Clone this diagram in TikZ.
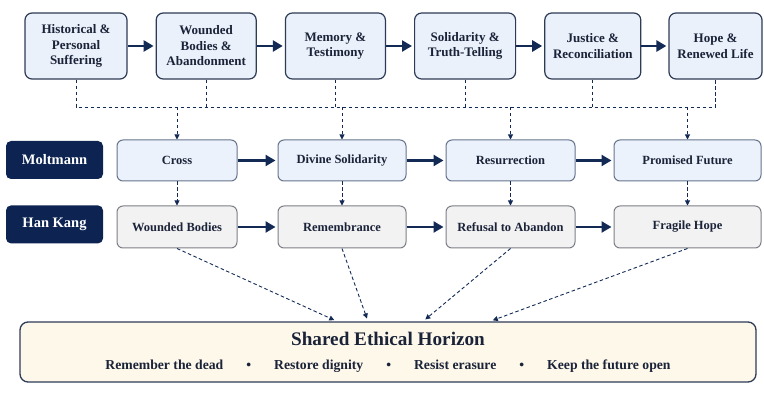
\documentclass[tikz,border=0pt]{standalone}
\usepackage{fontspec}
\setmainfont{Liberation Serif}
\usepackage{xcolor}
\usepackage{tikz}
\usetikzlibrary{arrows.meta,positioning,calc}

\definecolor{navy}{HTML}{132A55}
\definecolor{ink}{HTML}{1B2338}
\definecolor{stageline}{HTML}{2E3B55}
\definecolor{stagefill}{HTML}{EAF1FB}
\definecolor{themeline}{HTML}{66748C}
\definecolor{themefill}{HTML}{EBF2FC}
\definecolor{motifline}{HTML}{7C7F86}
\definecolor{motiffill}{HTML}{F2F2F3}
\definecolor{whofill}{HTML}{0D2452}
\definecolor{horizonfill}{HTML}{FDF8EA}

\begin{document}
\begin{tikzpicture}[
  x=1pt, y=1pt,
  node distance=28pt,
  stage/.style={draw=stageline, line width=1.2pt, rounded corners=7pt, minimum height=66pt, minimum width=100pt, align=center, font=\fontsize{13}{15.5}\selectfont\bfseries, fill=stagefill, text=ink, inner sep=2pt},
  theme/.style={draw=themeline, line width=1pt, rounded corners=6pt, minimum height=41pt, align=center, font=\fontsize{12.5}{15}\selectfont\bfseries, fill=themefill, text=ink},
  motif/.style={draw=motifline, line width=1pt, rounded corners=6pt, minimum height=42pt, align=center, font=\fontsize{12.5}{15}\selectfont\bfseries, fill=motiffill, text=ink},
  who/.style={fill=whofill, rounded corners=5pt, minimum width=97pt, minimum height=38pt, font=\fontsize{14.5}{17}\selectfont\bfseries, text=white},
  horizon/.style={draw=stageline, line width=1.3pt, rounded corners=8pt, minimum width=736pt, minimum height=60pt, align=center, fill=horizonfill, text=ink, font=\fontsize{13.7}{24}\selectfont\bfseries},
  arrow/.style={-{Triangle[length=10pt,width=11pt]}, line width=2.6pt, color=navy, shorten >=2pt},
  darrow/.style={-{Triangle[length=5pt,width=5pt]}, line width=0.9pt, color=navy, dash pattern=on 3.5pt off 2.5pt},
  dline/.style={line width=0.9pt, color=navy, dash pattern=on 3.5pt off 2.5pt},
]
\useasboundingbox (0,0) rectangle (764,-393);

% experience stages
\node[stage, minimum width=102pt] (t1) at (76,-46) {Historical \&\\Personal\\Suffering};
\node[stage, right=28pt of t1] (t2) {Wounded\\Bodies \&\\Abandonment};
\node[stage, right=28pt of t2] (t3) {Memory \&\\Testimony};
\node[stage, minimum width=101pt, right=28pt of t3] (t4) {Solidarity \&\\Truth-Telling};
\node[stage, minimum width=96pt, right=28pt of t4] (t5) {Justice \&\\Reconciliation};
\node[stage, minimum width=93pt, right=27pt of t5] (t6) {Hope \&\\Renewed Life};

\draw[arrow] (t1) -- (t2);
\draw[arrow] (t2) -- (t3);
\draw[arrow] (t3) -- (t4);
\draw[arrow] (t4) -- (t5);
\draw[arrow] (t5) -- (t6);

% row labels
\node[who] (lm) at (54.5,-160) {Moltmann};
\node[who, below=26pt of lm] (lh) {Han Kang};

% Moltmann
\node[theme, minimum width=120pt] (m1) at (177,-160.5) {Cross};
\node[theme, minimum width=128pt, right=40pt of m1] (m2) {Divine Solidarity};
\node[theme, minimum width=129pt, right=39pt of m2] (m3) {Resurrection};
\node[theme, minimum width=147pt, right=38pt of m3] (m4) {Promised Future};

% Han Kang
\node[motif, minimum width=120pt, below=24pt of m1] (b1) {Wounded Bodies};
\node[motif, minimum width=128pt, right=40pt of b1] (b2) {Remembrance};
\node[motif, minimum width=129pt, right=39pt of b2] (b3) {Refusal to Abandon};
\node[motif, minimum width=147pt, right=38pt of b3] (b4) {Fragile Hope};

\foreach \i/\j in {1/2, 2/3, 3/4} {
  \draw[arrow] (m\i) -- (m\j);
  \draw[arrow] (b\i) -- (b\j);
}

% dashed bus from the stages
\coordinate (bus) at (0,-107);
\draw[dline] (t1.south) -- (t1.south |- bus) -- (t6.south |- bus) -- (t6.south);
\foreach \i in {2,...,5}
  \draw[dline] (t\i.south) -- (t\i.south |- bus);
\foreach \i in {1,...,4} {
  \draw[darrow] (m\i.north |- bus) -- (m\i.north);
  \draw[darrow] (m\i.south) -- (b\i.north);
}

% horizon
\node[horizon] (hz) at (388,-352) {{\fontsize{19.2}{24}\selectfont Shared Ethical Horizon}\\Remember the dead\hspace{23pt}\textbullet\hspace{23pt}Restore dignity\hspace{23pt}\textbullet\hspace{23pt}Resist erasure\hspace{23pt}\textbullet\hspace{23pt}Keep the future open};

\draw[darrow, shorten >=3pt] (b1.south) -- ([xshift=-51pt]hz.north);
\draw[darrow, shorten >=3pt] (b2.south) -- ([xshift=-20pt]hz.north);
\draw[darrow, shorten >=3pt] (b3.south) -- ([xshift=35pt]hz.north);
\draw[darrow, shorten >=3pt] (b4.south) -- ([xshift=102pt]hz.north);

\end{tikzpicture}
\end{document}
